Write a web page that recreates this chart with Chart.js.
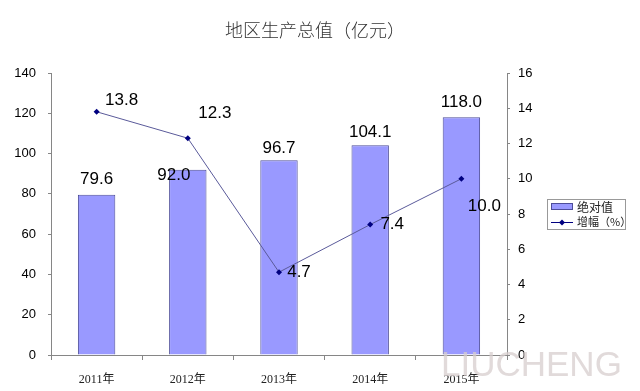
<!DOCTYPE html>
<html>
<head>
<meta charset="utf-8">
<script src="https://cdn.jsdelivr.net/npm/chart.js@4"></script>
<style>
  html, body { margin: 0; padding: 0; background: #fff; }
  #wrap { width: 640px; height: 391px; position: relative; }
</style>
</head>
<body>
<div id="wrap"><canvas id="gdpChart"></canvas></div>
<script>
// data
const years = ["2011年", "2012年", "2013年", "2014年", "2015年"];
const absValues = [79.6, 92.0, 96.7, 104.1, 118.0];
const growthRates = [13.8, 12.3, 4.7, 7.4, 10.0];
const leftTicks = [0, 20, 40, 60, 80, 100, 120, 140];
const rightTicks = [0, 2, 4, 6, 8, 10, 12, 14, 16];

// label nudges (px) to match where the labels sit in the picture
const barLabelShift = [[0, -15], [-14, 6], [0, -12], [0, -13], [0, -15]];
const lineLabelShift = [[25, -11], [27, -25], [20, 0], [22, 0], [23, 28]];

const BAR_FILL = "#9999ff";
const BAR_EDGE = "#4d4d99";
const LINE_COLOR = "#000080";
const AXIS_COLOR = "#868686";

const diamond = (ctx, x, y, r) => {
  ctx.beginPath();
  ctx.moveTo(x, y - r);
  ctx.lineTo(x + r, y);
  ctx.lineTo(x, y + r);
  ctx.lineTo(x - r, y);
  ctx.closePath();
  ctx.fill();
};

const extras = {
  id: "extras",
  afterDatasetsDraw(chart) {
    const ctx = chart.ctx;
    ctx.save();
    ctx.fillStyle = "#000";
    ctx.font = "17px 'Liberation Sans', Arial, sans-serif";
    ctx.textAlign = "center";
    ctx.textBaseline = "middle";
    chart.getDatasetMeta(0).data.forEach((bar, i) => {
      const [dx, dy] = barLabelShift[i];
      ctx.fillText(absValues[i].toFixed(1), bar.x + dx, bar.y + dy);
    });
    chart.getDatasetMeta(1).data.forEach((pt, i) => {
      const [dx, dy] = lineLabelShift[i];
      ctx.fillText(growthRates[i].toFixed(1), pt.x + dx, pt.y + dy);
    });
    ctx.restore();
  },
  afterDraw(chart) {
    const ctx = chart.ctx;
    ctx.save();
    // title
    ctx.fillStyle = "#333";
    ctx.font = "300 18px 'Noto Sans CJK SC', sans-serif";
    ctx.textAlign = "center";
    ctx.textBaseline = "middle";
    ctx.fillText("地区生产总值（亿元）", 315, 30);

    // legend box
    ctx.strokeStyle = "#999";
    ctx.lineWidth = 1;
    ctx.fillStyle = "#fff";
    ctx.fillRect(547.5, 199.5, 78, 30);
    ctx.strokeRect(547.5, 199.5, 78, 30);
    ctx.fillStyle = BAR_FILL;
    ctx.fillRect(551.5, 203.5, 21, 6);
    ctx.strokeStyle = BAR_EDGE;
    ctx.strokeRect(551.5, 203.5, 21, 6);
    ctx.strokeStyle = LINE_COLOR;
    ctx.beginPath();
    ctx.moveTo(551, 222.5);
    ctx.lineTo(573, 222.5);
    ctx.stroke();
    ctx.fillStyle = LINE_COLOR;
    diamond(ctx, 562, 222.5, 3);
    ctx.fillStyle = "#222";
    ctx.font = "12px 'Noto Sans CJK SC', sans-serif";
    ctx.textAlign = "left";
    ctx.fillText(chart.data.datasets[0].label, 577, 207);
    ctx.font = "11px 'Noto Sans CJK SC', sans-serif";
    ctx.fillText(chart.data.datasets[1].label, 577, 222);

    // watermark
    ctx.fillStyle = "rgba(215, 205, 205, 0.75)";
    ctx.font = "35px 'Liberation Sans', Arial, sans-serif";
    ctx.textAlign = "left";
    ctx.textBaseline = "alphabetic";
    ctx.fillText("LIUCHENG", 441, 376);
    ctx.restore();
  }
};

new Chart(document.getElementById("gdpChart"), {
  data: {
    labels: years,
    datasets: [
      {
        type: "bar",
        label: "绝对值",
        data: absValues,
        yAxisID: "y",
        backgroundColor: BAR_FILL,
        borderColor: BAR_EDGE,
        borderWidth: 1,
        categoryPercentage: 1,
        barPercentage: 0.41,
        order: 1
      },
      {
        type: "line",
        label: "增幅（%）",
        data: growthRates,
        yAxisID: "y1",
        borderColor: "#5a5a9a",
        borderWidth: 1,
        pointStyle: "rectRot",
        pointRadius: 3,
        pointBackgroundColor: LINE_COLOR,
        pointBorderColor: LINE_COLOR,
        pointBorderWidth: 0,
        tension: 0,
        order: 0
      }
    ]
  },
  options: {
    responsive: true,
    maintainAspectRatio: false,
    animation: false,
    events: [],
    layout: { padding: { top: 73, left: 0, right: 0, bottom: 0 } },
    plugins: {
      legend: { display: false },
      tooltip: { enabled: false }
    },
    scales: {
      x: {
        offset: true,
        grid: {
          offset: true,
          drawOnChartArea: false,
          tickLength: 5,
          color: AXIS_COLOR
        },
        border: { color: AXIS_COLOR },
        ticks: {
          color: "#222",
          padding: 13,
          font: { family: "'Liberation Serif', 'Noto Sans CJK SC', serif", size: 12 }
        },
        afterFit: (s) => { s.height = 36; }
      },
      y: {
        position: "left",
        min: 0,
        max: 140,
        afterBuildTicks: (s) => { s.ticks = leftTicks.map((v) => ({ value: v })); },
        grid: { drawOnChartArea: false, tickLength: 3, color: AXIS_COLOR },
        border: { color: AXIS_COLOR },
        ticks: {
          color: "#000",
          padding: 12,
          font: { family: "'Liberation Sans', Arial, sans-serif", size: 13 }
        },
        afterFit: (s) => { s.width = 51; }
      },
      y1: {
        position: "right",
        min: 0,
        max: 16,
        afterBuildTicks: (s) => { s.ticks = rightTicks.map((v) => ({ value: v })); },
        grid: { drawOnChartArea: false, tickLength: 3, color: AXIS_COLOR },
        border: { color: AXIS_COLOR },
        ticks: {
          color: "#000",
          padding: 8,
          font: { family: "'Liberation Sans', Arial, sans-serif", size: 13 }
        },
        afterFit: (s) => { s.width = 133; }
      }
    }
  },
  plugins: [extras]
});
</script>
</body>
</html>
